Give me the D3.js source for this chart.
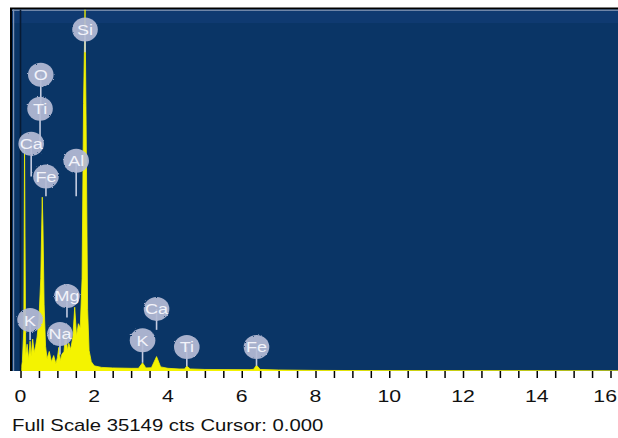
<!DOCTYPE html>
<html>
<head>
<meta charset="utf-8">
<script src="https://cdn.jsdelivr.net/npm/d3@7"></script>
<style>
  html, body { margin: 0; padding: 0; background: #ffffff; }
  svg { display: block; }
  text { font-family: "Liberation Sans", Arial, sans-serif; }
</style>
</head>
<body>
<svg id="chart" width="618" height="438"></svg>
<script>
// EDS spectrum: energy (keV) and counts at sampled points of the trace
const energy = [0.00, 0.05, 0.09, 0.11, 0.14, 0.18, 0.22, 0.26, 0.29, 0.33, 0.37, 0.41, 0.45, 0.50, 0.55,
                0.59, 0.61, 0.64, 0.68, 0.72, 0.78, 0.84, 0.90, 0.96, 1.00, 1.04, 1.08, 1.12, 1.18, 1.23,
                1.27, 1.31, 1.36, 1.42, 1.47, 1.52, 1.57, 1.62, 1.67, 1.71, 1.75, 1.78, 1.82, 1.86, 1.92,
                2.00, 2.20, 2.50, 3.00, 3.20, 3.31, 3.40, 3.55, 3.69, 3.80, 4.00, 4.30, 4.45, 4.51, 4.60,
                5.00, 6.20, 6.32, 6.40, 6.50, 7.00, 8.00, 10.0, 16.5];
const counts = [0, 900, 4000, 22000, 1500, 2600, 1100, 2900, 1400, 3100, 1800, 2400, 3300, 5000, 9000,
                16900, 14000, 6500, 2400, 1200, 1900, 900, 1500, 700, 1300, 2300, 1000, 1600, 1900, 4000,
                2000, 2700, 2100, 3300, 6200, 3400, 4600, 4200, 9000, 26000, 35149, 24000, 6000, 2000, 900,
                500, 350, 300, 260, 260, 800, 300, 320, 1400, 400, 260, 200, 200, 480, 200,
                150, 130, 160, 560, 150, 100, 60, 30, 0];

// Element markers: symbol, line energy (keV), marker centre height and stem end (counts)
const markerSymbol = ["Si", "O", "Ti", "Ca", "Fe", "Al", "Mg", "K", "Na", "Ca", "K", "Ti", "Fe"];
const markerEnergy = [1.75, 0.55, 0.53, 0.29, 0.69, 1.51, 1.26, 0.26, 1.07, 3.69, 3.31, 4.51, 6.40];
const markerLevel  = [33200, 28800, 25500, 22100, 18900, 20450, 7300, 4950, 3600, 6040, 3000, 2340, 2340];
const stemEnd      = [31000, 25500, 22100, 18900, 17000, 17000, 5200, 3000, 1600, 4000, 800, 450, 500];

const tickValues = d3.range(0, 16.6, 0.5);
const tickLabels = [0, 2, 4, 6, 8, 10, 12, 14, 16];
const fullScale = 35149;
const footer = "Full Scale 35149 cts Cursor: 0.000";

const svg = d3.select("#chart");
const W = +svg.attr("width");
const plot = { left: 12, top: 9.5, right: 618, bottom: 371 };

const x = d3.scaleLinear().domain([0, 16]).range([20.5, 610.5]);
const y = d3.scaleLinear().domain([0, fullScale]).range([plot.bottom, plot.top]);

const defs = svg.append("defs");
defs.append("clipPath").attr("id", "plotClip")
  .append("rect").attr("x", plot.left).attr("y", plot.top)
  .attr("width", plot.right - plot.left).attr("height", plot.bottom - plot.top);
const fuzz = defs.append("filter").attr("id", "fuzz")
  .attr("x", "-30%").attr("y", "-30%").attr("width", "160%").attr("height", "160%");
fuzz.append("feTurbulence").attr("type", "fractalNoise").attr("baseFrequency", 0.9).attr("numOctaves", 1).attr("result", "n");
fuzz.append("feDisplacementMap").attr("in", "SourceGraphic").attr("in2", "n").attr("scale", 2.5).attr("result", "d");
fuzz.append("feGaussianBlur").attr("in", "d").attr("stdDeviation", 0.7);

// Outer frame lines (top and left)
svg.append("rect").attr("x", plot.left - 2).attr("y", plot.top - 2)
  .attr("width", plot.right - plot.left + 2).attr("height", plot.bottom - plot.top + 2)
  .attr("fill", "#000");

// Plot background with a light rim along the top and left edges
svg.append("rect").attr("x", plot.left).attr("y", plot.top)
  .attr("width", plot.right - plot.left).attr("height", plot.bottom - plot.top)
  .attr("fill", "#0a3566");
svg.append("rect").attr("x", plot.left).attr("y", plot.top)
  .attr("width", plot.right - plot.left).attr("height", 1.5).attr("fill", "#6f86a8");
svg.append("rect").attr("x", plot.left).attr("y", plot.top + 1.5)
  .attr("width", plot.right - plot.left).attr("height", 12).attr("fill", "#123d78").attr("opacity", 0.6);
svg.append("rect").attr("x", plot.left + 1).attr("y", plot.top)
  .attr("width", 1.2).attr("height", plot.bottom - plot.top).attr("fill", "#7f93b3");

const g = svg.append("g").attr("clip-path", "url(#plotClip)");

// Spectrum fill
const pts = energy.map((e, i) => [e, counts[i]]);
g.append("path").datum(pts)
  .attr("fill", "#f4f300")
  .attr("stroke", "#f4f300").attr("stroke-width", 0.8)
  .attr("d", d3.area().x(d => x(d[0])).y0(y(0)).y1(d => y(d[1])));

// Cursor line at 0.000 keV
g.append("line").attr("x1", x(0)).attr("x2", x(0))
  .attr("y1", plot.top).attr("y2", plot.bottom)
  .attr("stroke", "#071a33").attr("stroke-width", 1.6);

// Element markers
const markers = markerSymbol.map((s, i) => ({ s, e: markerEnergy[i], lv: markerLevel[i], end: stemEnd[i] }));
const mg = g.selectAll("g.marker").data(markers).join("g").attr("class", "marker");
mg.append("line")
  .attr("x1", d => x(d.e)).attr("x2", d => x(d.e))
  .attr("y1", d => y(d.lv)).attr("y2", d => y(d.end))
  .attr("stroke", "#c3cbe0").attr("stroke-width", 1.6);
mg.append("ellipse")
  .attr("cx", d => x(d.e)).attr("cy", d => y(d.lv)).attr("rx", 12.8).attr("ry", 12)
  .attr("fill", "#b4bbd5").attr("opacity", 0.93).attr("filter", "url(#fuzz)");
mg.append("text")
  .attr("transform", d => `translate(${x(d.e)},${y(d.lv) + 5.5}) scale(1.2,1)`)
  .attr("text-anchor", "middle").attr("font-size", 15)
  .attr("fill", "#f2f3fa").text(d => d.s);

// X axis ticks and labels
const axis = d3.axisBottom(x).tickValues(tickValues).tickSize(7).tickFormat("");
const ax = svg.append("g").attr("transform", `translate(0,${plot.bottom})`).call(axis);
ax.select(".domain").remove();
ax.selectAll(".tick line").attr("stroke", "#000").attr("stroke-width", 1.5);

// The last label sits against the right edge of the window
const lastTick = tickLabels[tickLabels.length - 1];
svg.selectAll("text.tl").data(tickLabels).join("text").attr("class", "tl")
  .attr("transform", d => d === lastTick
      ? `translate(${W - 1},402) scale(1.25,1)`
      : `translate(${x(d)},402) scale(1.25,1)`)
  .attr("text-anchor", d => d === lastTick ? "end" : "middle")
  .attr("font-size", 17).attr("fill", "#111")
  .text(d => d);

svg.append("text").attr("transform", "translate(12,431) scale(1.27,1)")
  .attr("font-size", 16).attr("fill", "#111").text(footer);
</script>
</body>
</html>
